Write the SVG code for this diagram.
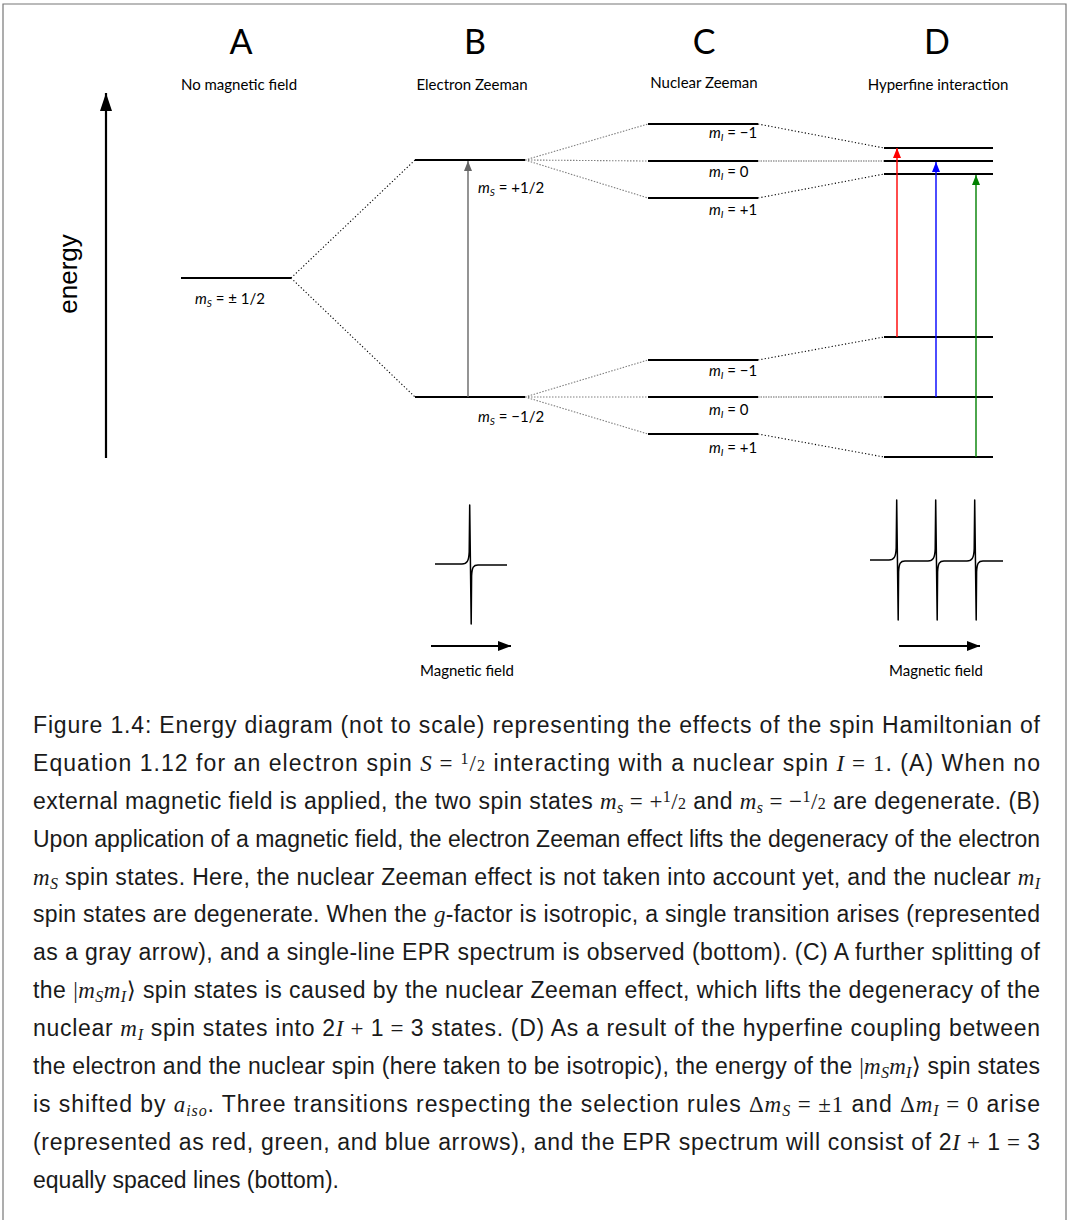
<svg xmlns="http://www.w3.org/2000/svg" width="1069" height="1220" viewBox="0 0 1069 1220">
<style>
.frame{stroke:#777;stroke-width:1.2;fill:none}
.lvl{stroke:#000;stroke-width:2.2;fill:none}
.dotK{stroke:#000;stroke-width:1.1;stroke-dasharray:1.2 2.2;fill:none}
.dotG{stroke:#808080;stroke-width:1.1;stroke-dasharray:1.5 1.5;fill:none}
.dotM{stroke:#999;stroke-width:1.3;stroke-dasharray:1.5 1;fill:none}
.lbl{font-family:Lato,"Open Sans",sans-serif;font-size:15px;fill:#000}
.big{font-size:34px}
.sub{font-size:10px}
.it{font-style:italic}
.en{font-family:"Liberation Sans",Arial,sans-serif;font-size:26px;fill:#000}
.cap{font-family:"Liberation Sans",Arial,sans-serif;font-size:23px;fill:#1a1a1a}
.mi{font-family:"Liberation Serif","DejaVu Serif",serif;font-style:italic}
.mr{font-family:"Liberation Serif","DejaVu Serif",serif}
.cs{font-size:16px}
.spec{stroke:#000;stroke-width:1.5;fill:none;stroke-linejoin:round}
</style>
<defs>
<marker id="hGray" viewBox="0 0 10 8" refX="10" refY="4" markerWidth="10" markerHeight="8" markerUnits="userSpaceOnUse" orient="auto"><path d="M0,0 L10,4 L0,8 z" fill="#666"/></marker>
<marker id="hRed" viewBox="0 0 10 8" refX="10" refY="4" markerWidth="10" markerHeight="8" markerUnits="userSpaceOnUse" orient="auto"><path d="M0,0 L10,4 L0,8 z" fill="#ff0000"/></marker>
<marker id="hBlue" viewBox="0 0 10 8" refX="10" refY="4" markerWidth="10" markerHeight="8" markerUnits="userSpaceOnUse" orient="auto"><path d="M0,0 L10,4 L0,8 z" fill="#0000ff"/></marker>
<marker id="hGreen" viewBox="0 0 10 8" refX="10" refY="4" markerWidth="10" markerHeight="8" markerUnits="userSpaceOnUse" orient="auto"><path d="M0,0 L10,4 L0,8 z" fill="#008000"/></marker>
<marker id="hBig" viewBox="0 0 18 12" refX="18" refY="6" markerWidth="18" markerHeight="12" markerUnits="userSpaceOnUse" orient="auto"><path d="M0,0 L18,6 L0,12 z" fill="#000"/></marker>
<marker id="hField" viewBox="0 0 13 10" refX="13" refY="5" markerWidth="13" markerHeight="10" markerUnits="userSpaceOnUse" orient="auto"><path d="M0,0 L13,5 L0,10 z" fill="#000"/></marker>
</defs>
<rect width="1069" height="1220" fill="#fff"/>
<path class="frame" d="M3,1220 V4 H1066 V1220"/>

<g id="headers" class="lbl" text-anchor="middle">
<text class="big" x="241" y="54">A</text>
<text class="big" x="475" y="54">B</text>
<text class="big" x="704" y="54">C</text>
<text class="big" x="937" y="54">D</text>
<text x="239" y="90">No magnetic field</text>
<text x="472" y="90">Electron Zeeman</text>
<text x="704" y="88">Nuclear Zeeman</text>
<text x="938" y="90">Hyperfine interaction</text>
</g>

<g id="energy-axis">
<line x1="106" y1="458" x2="106" y2="93" stroke="#000" stroke-width="2.2" marker-end="url(#hBig)"/>
<text class="en" transform="translate(77,274) rotate(-90)" text-anchor="middle">energy</text>
</g>

<g id="connectors">
<path class="dotK" d="M291,278 L415,160 M291,278 L415,397"/>
<path class="dotG" d="M525,160 L648,124 M525,160 L648,161 M525,160 L648,198 M525,397 L648,360 M525,397 L648,397 M525,397 L648,434"/>
<path class="dotK" d="M758,124 L884,148 M758,198 L884,174 M758,360 L884,337 M758,434 L884,457"/>
<path class="dotM" d="M758,161 L884,161 M758,397 L884,397"/>
</g>

<g id="level-A">
<line class="lvl" x1="181" y1="278" x2="291" y2="278"/>
<text class="lbl" x="195" y="304"><tspan class="it">m</tspan><tspan class="sub it" dy="3">S</tspan><tspan dy="-3"> = ± 1/2</tspan></text>
</g>
<g id="level-B-up">
<line class="lvl" x1="415" y1="160" x2="525" y2="160"/>
<text class="lbl" x="478" y="193"><tspan class="it">m</tspan><tspan class="sub it" dy="3">S</tspan><tspan dy="-3"> = +1/2</tspan></text>
</g>
<g id="level-B-down">
<line class="lvl" x1="415" y1="397" x2="525" y2="397"/>
<text class="lbl" x="478" y="422"><tspan class="it">m</tspan><tspan class="sub it" dy="3">S</tspan><tspan dy="-3"> = −1/2</tspan></text>
</g>

<g id="level-C-up-m1">
<line class="lvl" x1="648" y1="124" x2="758" y2="124"/>
<text class="lbl" x="709" y="138"><tspan class="it">m</tspan><tspan class="sub it" dy="3">I</tspan><tspan dy="-3"> = −1</tspan></text>
</g>
<g id="level-C-up-0">
<line class="lvl" x1="648" y1="161" x2="758" y2="161"/>
<text class="lbl" x="709" y="177"><tspan class="it">m</tspan><tspan class="sub it" dy="3">I</tspan><tspan dy="-3"> = 0</tspan></text>
</g>
<g id="level-C-up-p1">
<line class="lvl" x1="648" y1="198" x2="758" y2="198"/>
<text class="lbl" x="709" y="215"><tspan class="it">m</tspan><tspan class="sub it" dy="3">I</tspan><tspan dy="-3"> = +1</tspan></text>
</g>
<g id="level-C-down-m1">
<line class="lvl" x1="648" y1="360" x2="758" y2="360"/>
<text class="lbl" x="709" y="376"><tspan class="it">m</tspan><tspan class="sub it" dy="3">I</tspan><tspan dy="-3"> = −1</tspan></text>
</g>
<g id="level-C-down-0">
<line class="lvl" x1="648" y1="397" x2="758" y2="397"/>
<text class="lbl" x="709" y="415"><tspan class="it">m</tspan><tspan class="sub it" dy="3">I</tspan><tspan dy="-3"> = 0</tspan></text>
</g>
<g id="level-C-down-p1">
<line class="lvl" x1="648" y1="434" x2="758" y2="434"/>
<text class="lbl" x="709" y="453"><tspan class="it">m</tspan><tspan class="sub it" dy="3">I</tspan><tspan dy="-3"> = +1</tspan></text>
</g>

<g id="levels-D">
<line class="lvl" x1="884" y1="148" x2="993" y2="148"/>
<line class="lvl" x1="884" y1="161" x2="993" y2="161"/>
<line class="lvl" x1="884" y1="174" x2="993" y2="174"/>
<line class="lvl" x1="884" y1="337" x2="993" y2="337"/>
<line class="lvl" x1="884" y1="397" x2="993" y2="397"/>
<line class="lvl" x1="884" y1="457" x2="993" y2="457"/>
</g>

<g id="transitions">
<line x1="468" y1="397" x2="468" y2="161" stroke="#666" stroke-width="1.4" marker-end="url(#hGray)"/>
<line x1="897" y1="337" x2="897" y2="148" stroke="#ff0000" stroke-width="1.4" marker-end="url(#hRed)"/>
<line x1="936" y1="397" x2="936" y2="162" stroke="#0000ff" stroke-width="1.4" marker-end="url(#hBlue)"/>
<line x1="976" y1="457" x2="976" y2="175" stroke="#008000" stroke-width="1.4" marker-end="url(#hGreen)"/>
</g>

<g id="spectrum-B">
<path class="spec" d="M435,564 L462,564 C467,564 468.8,561 469.2,552 L469.7,505 L471.2,624 L471.6,576 C472,567 473.5,565 478,565 L507,565"/>
<line x1="431" y1="646" x2="511" y2="646" stroke="#000" stroke-width="2.2" marker-end="url(#hField)"/>
<text class="lbl" x="467" y="676" text-anchor="middle">Magnetic field</text>
</g>

<g id="spectrum-D">
<path class="spec" d="M870,560 L889,560 C894,560 895.8,557 896.2,548 L896.7,500 L898.2,620 L898.6,572 C899,563 900.5,561 905,561 L928,561 C933,561 934.8,558 935.2,549 L935.7,500 L937.2,620 L937.6,572 C938,563 939.5,561 944,561 L967,561 C972,561 973.8,558 974.2,549 L974.7,500 L976.2,620 L976.6,572 C977,563 978.5,561 983,561 L1003,561"/>
<line x1="899" y1="646" x2="980" y2="646" stroke="#000" stroke-width="2.2" marker-end="url(#hField)"/>
<text class="lbl" x="936" y="676" text-anchor="middle">Magnetic field</text>
</g>

<g id="caption" class="cap">
<text x="33" y="733" textLength="1007" lengthAdjust="spacing">Figure 1.4:  Energy diagram (not to scale) representing the effects of the spin Hamiltonian of</text>
<text x="33" y="771" textLength="1007" lengthAdjust="spacing">Equation 1.12 for an electron spin <tspan class="mi">S</tspan><tspan class="mr"> = </tspan><tspan class="mr cs" dy="-7">1</tspan><tspan class="mr" dy="7">/</tspan><tspan class="mr cs">2</tspan> interacting with a nuclear spin <tspan class="mi">I</tspan><tspan class="mr"> = 1</tspan>.  (A) When no</text>
<text x="33" y="809" textLength="1007" lengthAdjust="spacing">external magnetic field is applied, the two spin states <tspan class="mi">m</tspan><tspan class="mi cs" dy="4">s</tspan><tspan class="mr" dy="-4"> = +</tspan><tspan class="mr cs" dy="-7">1</tspan><tspan class="mr" dy="7">/</tspan><tspan class="mr cs">2</tspan> and <tspan class="mi">m</tspan><tspan class="mi cs" dy="4">s</tspan><tspan class="mr" dy="-4"> = −</tspan><tspan class="mr cs" dy="-7">1</tspan><tspan class="mr" dy="7">/</tspan><tspan class="mr cs">2</tspan> are degenerate. (B)</text>
<text x="33" y="847" textLength="1007" lengthAdjust="spacing">Upon application of a magnetic field, the electron Zeeman effect lifts the degeneracy of the electron</text>
<text x="33" y="885" textLength="1007" lengthAdjust="spacing"><tspan class="mi">m</tspan><tspan class="mi cs" dy="4">S</tspan><tspan dy="-4"> spin states. Here, the nuclear Zeeman effect is not taken into account yet, and the nuclear </tspan><tspan class="mi">m</tspan><tspan class="mi cs" dy="4">I</tspan></text>
<text x="33" y="922" textLength="1007" lengthAdjust="spacing">spin states are degenerate.  When the <tspan class="mi">g</tspan>-factor is isotropic, a single transition arises (represented</text>
<text x="33" y="960" textLength="1007" lengthAdjust="spacing">as a gray arrow), and a single-line EPR spectrum is observed (bottom).  (C) A further splitting of</text>
<text x="33" y="998" textLength="1007" lengthAdjust="spacing">the <tspan class="mr">|</tspan><tspan class="mi">m</tspan><tspan class="mi cs" dy="4">S</tspan><tspan class="mi" dy="-4">m</tspan><tspan class="mi cs" dy="4">I</tspan><tspan class="mr" dy="-4">⟩</tspan> spin states is caused by the nuclear Zeeman effect, which lifts the degeneracy of the</text>
<text x="33" y="1036" textLength="1007" lengthAdjust="spacing">nuclear <tspan class="mi">m</tspan><tspan class="mi cs" dy="4">I</tspan><tspan dy="-4"> spin states into 2</tspan><tspan class="mi">I</tspan><tspan class="mr"> + </tspan>1<tspan class="mr"> = </tspan>3 states.  (D) As a result of the hyperfine coupling between</text>
<text x="33" y="1074" textLength="1007" lengthAdjust="spacing">the electron and the nuclear spin (here taken to be isotropic), the energy of the <tspan class="mr">|</tspan><tspan class="mi">m</tspan><tspan class="mi cs" dy="4">S</tspan><tspan class="mi" dy="-4">m</tspan><tspan class="mi cs" dy="4">I</tspan><tspan class="mr" dy="-4">⟩</tspan> spin states</text>
<text x="33" y="1112" textLength="1007" lengthAdjust="spacing">is shifted by <tspan class="mi">a</tspan><tspan class="mi cs" dy="4">iso</tspan><tspan dy="-4">.  Three transitions respecting the selection rules </tspan><tspan class="mr">Δ</tspan><tspan class="mi">m</tspan><tspan class="mi cs" dy="4">S</tspan><tspan class="mr" dy="-4"> = ±1</tspan> and <tspan class="mr">Δ</tspan><tspan class="mi">m</tspan><tspan class="mi cs" dy="4">I</tspan><tspan class="mr" dy="-4"> = 0</tspan> arise</text>
<text x="33" y="1150" textLength="1007" lengthAdjust="spacing">(represented as red, green, and blue arrows), and the EPR spectrum will consist of 2<tspan class="mi">I</tspan><tspan class="mr"> + </tspan>1<tspan class="mr"> = </tspan>3</text>
<text x="33" y="1188" textLength="306" lengthAdjust="spacing">equally spaced lines (bottom).</text>
</g>
</svg>
